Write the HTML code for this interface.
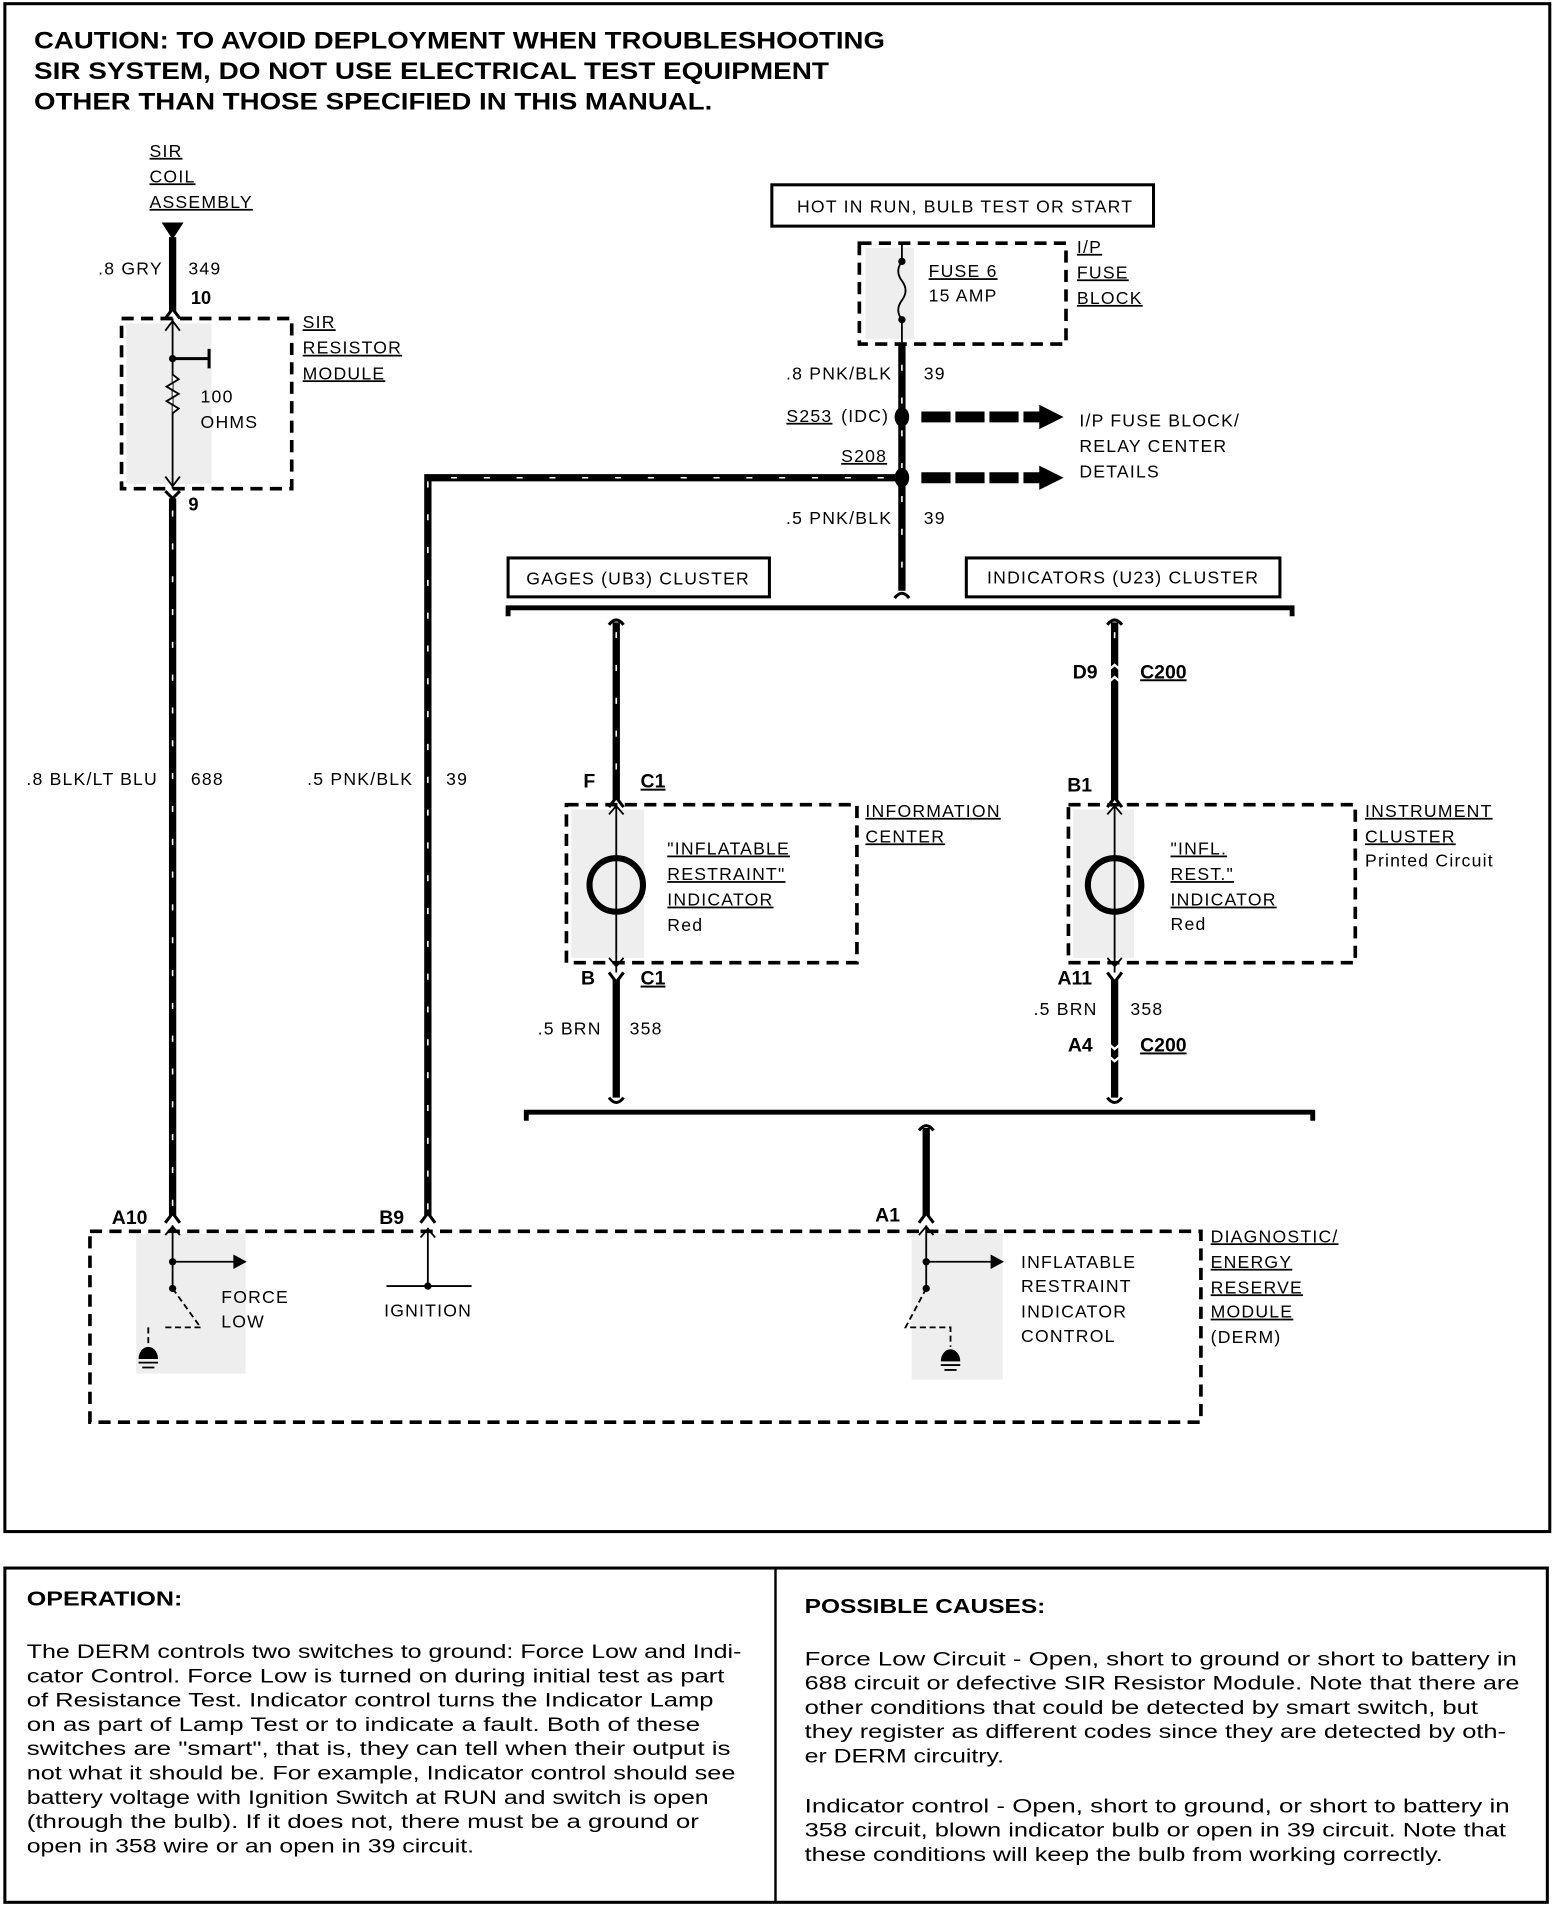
<!DOCTYPE html>
<html><head><meta charset="utf-8"><style>
html,body{margin:0;padding:0;background:#fff}
svg{display:block}
text{font-family:"Liberation Sans",sans-serif;fill:#000}
.s{font-size:14.5px;letter-spacing:1px}
.b{font-weight:bold}
.w{stroke:#000;stroke-width:6;fill:none}
.t{stroke:#fff;stroke-width:1.3;stroke-dasharray:5 22;fill:none}
.d{stroke:#000;stroke-width:3;stroke-dasharray:10 6;fill:none}
.th{stroke:#000;stroke-width:1.5;fill:none}
.h{stroke:#000;stroke-width:2.5;fill:none}
</style></head><body>
<svg width="1568" height="1906" viewBox="0 0 1290 1568" xmlns="http://www.w3.org/2000/svg">
<rect x="4" y="3" width="1271" height="1257" fill="none" stroke="#000" stroke-width="2.5"/>
<rect x="4" y="1290" width="1269" height="275" fill="none" stroke="#000" stroke-width="2.5"/>
<line x1="638" y1="1290" x2="638" y2="1565" stroke="#000" stroke-width="2"/>

<g font-size="19.5" class="b">
<text x="28" y="40" class="b" textLength="700" lengthAdjust="spacingAndGlyphs">CAUTION: TO AVOID DEPLOYMENT WHEN TROUBLESHOOTING</text>
<text x="28" y="65" class="b" textLength="654" lengthAdjust="spacingAndGlyphs">SIR SYSTEM, DO NOT USE ELECTRICAL TEST EQUIPMENT</text>
<text x="28" y="90" class="b" textLength="558" lengthAdjust="spacingAndGlyphs">OTHER THAN THOSE SPECIFIED IN THIS MANUAL.</text>
</g>

<g class="s" text-decoration="underline">
<text x="123" y="129">SIR</text><text x="123" y="150">COIL</text><text x="123" y="171">ASSEMBLY</text>
<text x="249" y="270">SIR</text><text x="249" y="291">RESISTOR</text><text x="249" y="312">MODULE</text>
<text x="886" y="208">I/P</text><text x="886" y="229">FUSE</text><text x="886" y="250">BLOCK</text>
<text x="764" y="228">FUSE 6</text>
<text x="647" y="347">S253</text><text x="692" y="380">S208</text>
<text x="712" y="672">INFORMATION</text><text x="712" y="693">CENTER</text>
<text x="549" y="703">"INFLATABLE</text><text x="549" y="724">RESTRAINT"</text><text x="549" y="745">INDICATOR</text>
<text x="1123" y="672">INSTRUMENT</text><text x="1123" y="693">CLUSTER</text>
<text x="963" y="703">"INFL.</text><text x="963" y="724">REST."</text><text x="963" y="745">INDICATOR</text>
<text x="996" y="1022">DIAGNOSTIC/</text><text x="996" y="1043">ENERGY</text><text x="996" y="1064">RESERVE</text><text x="996" y="1084">MODULE</text>
</g>
<polygon points="133,183 151,183 142,197" fill="#000"/>
<line x1="142" y1="195" x2="142" y2="256" class="w"/>
<path d="M136 262 L142 254 L148 262" class="h"/>
<text x="134" y="226" class="s" text-anchor="end">.8 GRY</text><text x="155" y="226" class="s">349</text>
<text x="157" y="250" font-size="15" class="b">10</text>
<rect x="100" y="262" width="140" height="140" class="d"/>
<rect x="104" y="266" width="70" height="132" fill="#eee"/>
<path d="M142 262 V402 M136 272 L142 264 L148 272 M136 392 L142 400 L148 392" class="th"/>
<path d="M142 295 H172 M172 287 V303" stroke="#000" stroke-width="2.5" fill="none"/>
<circle cx="142" cy="295" r="3" fill="#000"/>
<path d="M142 308 l5 4 l-10 6 l10 6 l-10 6 l10 6 l-5 4" fill="#fff" stroke="#000" stroke-width="1.5"/>
<text x="165" y="331" class="s">100</text><text x="165" y="352" class="s">OHMS</text>
<path d="M136 404 L142 410 L148 404" class="h"/>
<text x="155" y="420" font-size="15" class="b">9</text>
<line x1="142" y1="410" x2="142" y2="1000" class="w"/><line x1="142" y1="420" x2="142" y2="995" class="t"/>
<path d="M136 1006 L142 998 L148 1006" class="h"/>
<text x="130" y="646" class="s" text-anchor="end">.8 BLK/LT BLU</text><text x="157" y="646" class="s">688</text>

<path d="M352 1000 V393 H740" class="w"/><path d="M352 995 V393 H740" class="t"/>
<path d="M346 1006 L352 998 L358 1006" class="h"/>
<text x="340" y="646" class="s" text-anchor="end">.5 PNK/BLK</text><text x="367" y="646" class="s">39</text>

<rect x="635" y="152" width="314" height="34" fill="none" stroke="#000" stroke-width="2.5"/>
<text x="794" y="175" class="s" text-anchor="middle">HOT IN RUN, BULB TEST OR START</text>
<rect x="707" y="200" width="170" height="83" class="d"/>
<rect x="712" y="204" width="40" height="75" fill="#eee"/>
<path d="M742 200 V215 q-6 8 0 16 q6 8 0 16 q-6 8 0 16 V283" class="th" stroke-width="2"/>
<circle cx="742" cy="215" r="3" fill="#000"/><circle cx="742" cy="263" r="3" fill="#000"/>
<text x="764" y="248" class="s">15 AMP</text>
<line x1="742" y1="283" x2="742" y2="486" class="w"/><line x1="742" y1="300" x2="742" y2="480" class="t"/>
<path d="M736 492 Q742 484 748 492" class="h"/>
<text x="734" y="312" class="s" text-anchor="end">.8 PNK/BLK</text><text x="760" y="312" class="s">39</text>
<text x="692" y="347" class="s">(IDC)</text>
<ellipse cx="742" cy="343" rx="6" ry="8" fill="#000"/><ellipse cx="742" cy="393" rx="6" ry="8" fill="#000"/>
<path d="M758 343 H858 M758 393 H858" stroke="#000" stroke-width="9" stroke-dasharray="24 4"/>
<polygon points="855,333 875,343 855,353" fill="#000"/><polygon points="855,383 875,393 855,403" fill="#000"/>
<text x="888" y="351" class="s">I/P FUSE BLOCK/</text><text x="888" y="372" class="s">RELAY CENTER</text><text x="888" y="393" class="s">DETAILS</text>
<text x="734" y="431" class="s" text-anchor="end">.5 PNK/BLK</text><text x="760" y="431" class="s">39</text>

<rect x="418" y="459" width="215" height="32" fill="none" stroke="#000" stroke-width="2.5"/>
<text x="525" y="481" class="s" text-anchor="middle">GAGES (UB3) CLUSTER</text>
<rect x="795" y="459" width="258" height="32" fill="none" stroke="#000" stroke-width="2.5"/>
<text x="924" y="480" class="s" text-anchor="middle">INDICATORS (U23) CLUSTER</text>
<path d="M418 507 V500 H1063 V507" stroke="#000" stroke-width="4" fill="none"/>

<line x1="507" y1="512" x2="507" y2="658" class="w"/><line x1="507" y1="520" x2="507" y2="655" class="t"/>
<path d="M501 514 Q507 506 513 514" class="h"/>
<path d="M501 664 L507 656 L513 664" class="h"/>
<text x="480" y="648" font-size="16" class="b">F</text><text x="527" y="648" font-size="16" class="b" text-decoration="underline">C1</text>
<rect x="466" y="662" width="239" height="130" class="d"/>
<rect x="470" y="666" width="60" height="122" fill="#eee"/>
<path d="M507 662 V800 M501 670 L507 663 L513 670 M501 788 L507 795 L513 788" class="th"/>
<circle cx="507" cy="728" r="22" fill="none" stroke="#000" stroke-width="5"/>
<text x="549" y="766" class="s">Red</text>
<text x="478" y="810" font-size="16" class="b">B</text><text x="527" y="810" font-size="16" class="b" text-decoration="underline">C1</text>
<path d="M501 800 L507 808 L513 800" class="h"/>
<line x1="507" y1="806" x2="507" y2="903" class="w"/>
<path d="M501 903 Q507 911 513 903" class="h"/>
<text x="495" y="851" class="s" text-anchor="end">.5 BRN</text><text x="518" y="851" class="s">358</text>

<line x1="917" y1="512" x2="917" y2="658" class="w"/><line x1="917" y1="520" x2="917" y2="540" class="t"/>
<path d="M911 514 Q917 506 923 514" class="h"/>
<path d="M910 553 L917 547 L924 553 M910 563 L917 557 L924 563" stroke="#fff" stroke-width="2" fill="none"/>
<text x="903" y="558" font-size="16" class="b" text-anchor="end">D9</text><text x="938" y="558" font-size="16" class="b" text-decoration="underline">C200</text>
<text x="878" y="651" font-size="16" class="b">B1</text>
<path d="M911 664 L917 656 L923 664" class="h"/>
<rect x="879" y="662" width="236" height="130" class="d"/>
<rect x="883" y="666" width="50" height="122" fill="#eee"/>
<path d="M917 662 V800 M911 670 L917 663 L923 670 M911 788 L917 795 L923 788" class="th"/>
<circle cx="917" cy="728" r="22" fill="none" stroke="#000" stroke-width="5"/>
<text x="963" y="765" class="s">Red</text><text x="1123" y="713" class="s" letter-spacing="0.3">Printed Circuit</text>
<text x="870" y="810" font-size="16" class="b">A11</text>
<path d="M911 800 L917 808 L923 800" class="h"/>
<line x1="917" y1="806" x2="917" y2="903" class="w"/>
<path d="M910 857 L917 863 L924 857 M910 867 L917 873 L924 867" stroke="#fff" stroke-width="2" fill="none"/>
<path d="M911 903 Q917 911 923 903" class="h"/>
<text x="903" y="835" class="s" text-anchor="end">.5 BRN</text><text x="930" y="835" class="s">358</text>
<text x="899" y="865" font-size="16" class="b" text-anchor="end">A4</text><text x="938" y="865" font-size="16" class="b" text-decoration="underline">C200</text>

<path d="M433 922 V915 H1080 V922" stroke="#000" stroke-width="4" fill="none"/>
<path d="M756 930 Q762 922 768 930" class="h"/>
<line x1="762" y1="928" x2="762" y2="1000" class="w"/>
<path d="M756 1006 L762 998 L768 1006" class="h"/>

<rect x="74" y="1013" width="914" height="157" class="d"/>
<text x="92" y="1007" font-size="16" class="b">A10</text><text x="312" y="1007" font-size="16" class="b">B9</text><text x="720" y="1005" font-size="16" class="b">A1</text>
<text x="996" y="1105" class="s">(DERM)</text>
<rect x="112" y="1015" width="90" height="115" fill="#eee"/>
<path d="M142 1008 V1060 M136 1016 L142 1009 L148 1016 M142 1038 H195" class="th" stroke-width="2"/>
<polygon points="192,1032 203,1038 192,1044" fill="#000"/>
<circle cx="142" cy="1038" r="3" fill="#000"/><circle cx="142" cy="1060" r="3" fill="#000"/>
<path d="M142 1060 L165 1092 M165 1092 H135 M122 1092 V1108" class="th" stroke-width="2" stroke-dasharray="5 3"/>
<path d="M114 1118 a8 10 0 0 1 16 0 Z" fill="#000"/><path d="M114 1121 H130 M117 1125 H127" class="th"/>
<text x="182" y="1072" class="s">FORCE</text><text x="182" y="1092" class="s">LOW</text>
<path d="M352 1010 V1058 M346 1018 L352 1011 L358 1018 M318 1058 H388" class="th" stroke-width="2"/>
<circle cx="352" cy="1058" r="3" fill="#000"/>
<text x="316" y="1083" class="s">IGNITION</text>
<rect x="750" y="1015" width="75" height="120" fill="#eee"/>
<path d="M762 1008 V1060 M756 1016 L762 1009 L768 1016 M762 1038 H818" class="th" stroke-width="2"/>
<polygon points="815,1032 826,1038 815,1044" fill="#000"/>
<circle cx="762" cy="1038" r="3" fill="#000"/><circle cx="762" cy="1060" r="3" fill="#000"/>
<path d="M762 1060 L745 1092 H782 V1108" class="th" stroke-width="2" stroke-dasharray="5 3"/>
<path d="M774 1120 a8 10 0 0 1 16 0 Z" fill="#000"/><path d="M774 1123 H790 M777 1127 H787" class="th"/>
<text x="840" y="1043" class="s">INFLATABLE</text><text x="840" y="1063" class="s">RESTRAINT</text><text x="840" y="1084" class="s">INDICATOR</text><text x="840" y="1104" class="s">CONTROL</text>

<text x="22" y="1321" font-size="17" class="b" textLength="128" lengthAdjust="spacingAndGlyphs">OPERATION:</text>
<g font-size="16" lengthAdjust="spacingAndGlyphs">
<text x="22" y="1364" textLength="588" lengthAdjust="spacingAndGlyphs">The DERM controls two switches to ground: Force Low and Indi-</text>
<text x="22" y="1384" textLength="574" lengthAdjust="spacingAndGlyphs">cator Control. Force Low is turned on during initial test as part</text>
<text x="22" y="1404" textLength="565" lengthAdjust="spacingAndGlyphs">of Resistance Test. Indicator control turns the Indicator Lamp</text>
<text x="22" y="1424" textLength="554" lengthAdjust="spacingAndGlyphs">on as part of Lamp Test or to indicate a fault. Both of these</text>
<text x="22" y="1444" textLength="579" lengthAdjust="spacingAndGlyphs">switches are "smart", that is, they can tell when their output is</text>
<text x="22" y="1464" textLength="583" lengthAdjust="spacingAndGlyphs">not what it should be. For example, Indicator control should see</text>
<text x="22" y="1484" textLength="561" lengthAdjust="spacingAndGlyphs">battery voltage with Ignition Switch at RUN and switch is open</text>
<text x="22" y="1504" textLength="553" lengthAdjust="spacingAndGlyphs">(through the bulb). If it does not, there must be a ground or</text>
<text x="22" y="1524" textLength="368" lengthAdjust="spacingAndGlyphs">open in 358 wire or an open in 39 circuit.</text>
</g>
<text x="662" y="1327" font-size="17" class="b" textLength="198" lengthAdjust="spacingAndGlyphs">POSSIBLE CAUSES:</text>
<g font-size="16">
<text x="662" y="1370" textLength="586" lengthAdjust="spacingAndGlyphs">Force Low Circuit - Open, short to ground or short to battery in</text>
<text x="662" y="1390" textLength="588" lengthAdjust="spacingAndGlyphs">688 circuit or defective SIR Resistor Module. Note that there are</text>
<text x="662" y="1410" textLength="554" lengthAdjust="spacingAndGlyphs">other conditions that could be detected by smart switch, but</text>
<text x="662" y="1430" textLength="577" lengthAdjust="spacingAndGlyphs">they register as different codes since they are detected by oth-</text>
<text x="662" y="1450" textLength="164" lengthAdjust="spacingAndGlyphs">er DERM circuitry.</text>
<text x="662" y="1491" textLength="580" lengthAdjust="spacingAndGlyphs">Indicator control - Open, short to ground, or short to battery in</text>
<text x="662" y="1511" textLength="577" lengthAdjust="spacingAndGlyphs">358 circuit, blown indicator bulb or open in 39 circuit. Note that</text>
<text x="662" y="1531" textLength="525" lengthAdjust="spacingAndGlyphs">these conditions will keep the bulb from working correctly.</text>
</g>
</svg>
</body></html>
